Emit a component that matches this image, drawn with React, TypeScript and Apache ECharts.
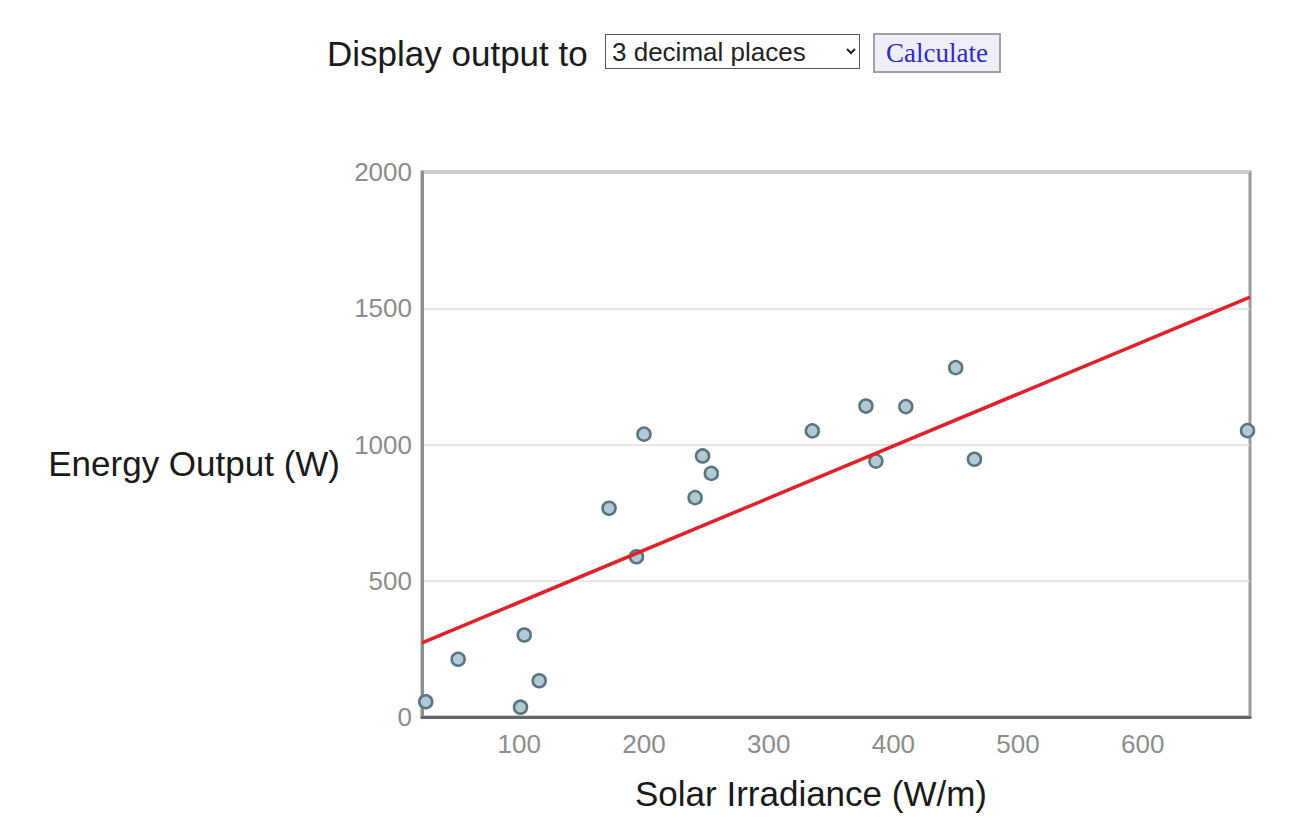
import React, { useEffect, useRef } from "react";
import * as echarts from "echarts";

// Solar irradiance (W/m) for each observation
const IRRADIANCE = [25, 51, 101, 104, 116, 172, 194, 200, 241, 247, 254, 335, 378, 386, 410, 450, 465, 684];
// Energy output (W) for each observation
const ENERGY = [56, 212, 36, 301, 133, 766, 588, 1038, 805, 958, 894, 1050, 1141, 939, 1139, 1282, 946, 1051];
// Axis settings
const X_MIN = 22;
const X_MAX = 686;
const X_TICKS = [100, 200, 300, 400, 500, 600];
const Y_MIN = 0;
const Y_MAX = 2000;
const Y_STEP = 500;
const DECIMAL_OPTIONS = ["0 decimal places", "1 decimal place", "2 decimal places", "3 decimal places", "4 decimal places"];

function leastSquares(xs: number[], ys: number[]) {
  const n = xs.length;
  const mx = xs.reduce((a, b) => a + b, 0) / n;
  const my = ys.reduce((a, b) => a + b, 0) / n;
  let sxy = 0;
  let sxx = 0;
  for (let i = 0; i < n; i++) {
    sxy += (xs[i] - mx) * (ys[i] - my);
    sxx += (xs[i] - mx) * (xs[i] - mx);
  }
  const slope = sxy / sxx;
  return { slope, intercept: my - slope * mx };
}

export default function App() {
  const ref = useRef<HTMLDivElement>(null);

  useEffect(() => {
    if (!ref.current) return;
    const chart = echarts.init(ref.current, undefined, { renderer: "svg" });
    const { slope, intercept } = leastSquares(IRRADIANCE, ENERGY);
    const fitLine = [
      [X_MIN, intercept + slope * X_MIN],
      [X_MAX, intercept + slope * X_MAX],
    ];
    const font = '"Liberation Sans", Arial, sans-serif';
    chart.setOption({
      animation: false,
      grid: {
        left: 422,
        right: 42,
        top: 172,
        bottom: 114,
        show: true,
        borderColor: "#9a9a9a",
        borderWidth: 3,
      },
      xAxis: {
        type: "value",
        min: X_MIN,
        max: X_MAX,
        axisLine: { show: true, lineStyle: { color: "#666", width: 3 } },
        axisTick: { show: false },
        splitLine: { show: false },
        axisLabel: {
          customValues: X_TICKS,
          fontSize: 26,
          color: "#8c8c8c",
          fontFamily: font,
          margin: 14,
          formatter: (v: number) => String(v),
        },
      },
      yAxis: {
        type: "value",
        min: Y_MIN,
        max: Y_MAX,
        interval: Y_STEP,
        axisLine: { show: true, lineStyle: { color: "#8f8f8f", width: 3 } },
        axisTick: { show: false },
        splitLine: { show: true, lineStyle: { color: "#dedede", width: 1.5 } },
        axisLabel: {
          fontSize: 26,
          color: "#8c8c8c",
          fontFamily: font,
          margin: 10,
          formatter: (v: number) => String(v),
        },
      },
      graphic: [
        {
          type: "text",
          x: 340,
          y: 463,
          style: {
            text: "Energy Output (W)",
            fontSize: 35,
            fontFamily: font,
            fill: "#1a1a1a",
            textAlign: "right",
            textVerticalAlign: "middle",
          },
        },
        {
          type: "text",
          x: 811,
          y: 793,
          style: {
            text: "Solar Irradiance (W/m)",
            fontSize: 35,
            fontFamily: font,
            fill: "#1a1a1a",
            textAlign: "center",
            textVerticalAlign: "middle",
          },
        },
      ],
      series: [
        {
          type: "scatter",
          data: IRRADIANCE.map((x, i) => [x, ENERGY[i]]),
          symbol: "circle",
          symbolSize: 13,
          itemStyle: {
            color: "#b3c9d4",
            borderColor: "#5a7482",
            borderWidth: 2.5,
            opacity: 1,
          },
          z: 2,
        },
        {
          type: "line",
          data: fitLine,
          showSymbol: false,
          symbol: "none",
          lineStyle: { color: "#e0202a", width: 3.5 },
          z: 3,
        },
      ],
    });
    return () => chart.dispose();
  }, []);

  return (
    <div style={{ position: "absolute", left: 0, top: 0, width: 1292, height: 831, background: "#fff" }}>
      <div ref={ref} style={{ position: "absolute", left: 0, top: 0, width: 1292, height: 831 }} />
      <span
        style={{
          position: "absolute",
          left: 327,
          top: 33,
          height: 42,
          lineHeight: "42px",
          fontSize: 35,
          fontFamily: '"Liberation Sans", Arial, sans-serif',
          color: "#1a1a1a",
          whiteSpace: "nowrap",
        }}
      >
        Display output to
      </span>
      <select
        defaultValue={DECIMAL_OPTIONS[3]}
        style={{
          position: "absolute",
          left: 605,
          top: 34,
          width: 255,
          height: 35,
          boxSizing: "border-box",
          fontSize: 26,
          fontFamily: '"Liberation Sans", Arial, sans-serif',
          color: "#222",
          border: "1px solid #555",
          borderRadius: 0,
          background: "#fff",
          padding: "0 2px",
        }}
      >
        {DECIMAL_OPTIONS.map((o) => (
          <option key={o} value={o}>
            {o}
          </option>
        ))}
      </select>
      <button
        style={{
          position: "absolute",
          left: 873,
          top: 33,
          width: 128,
          height: 40,
          boxSizing: "border-box",
          fontSize: 27,
          fontFamily: '"Liberation Serif", "Times New Roman", serif',
          color: "#2b2bd0",
          background: "#eeeef8",
          border: "2px solid #a0a0a8",
          borderRadius: 0,
          padding: 0,
        }}
      >
        Calculate
      </button>
    </div>
  );
}
